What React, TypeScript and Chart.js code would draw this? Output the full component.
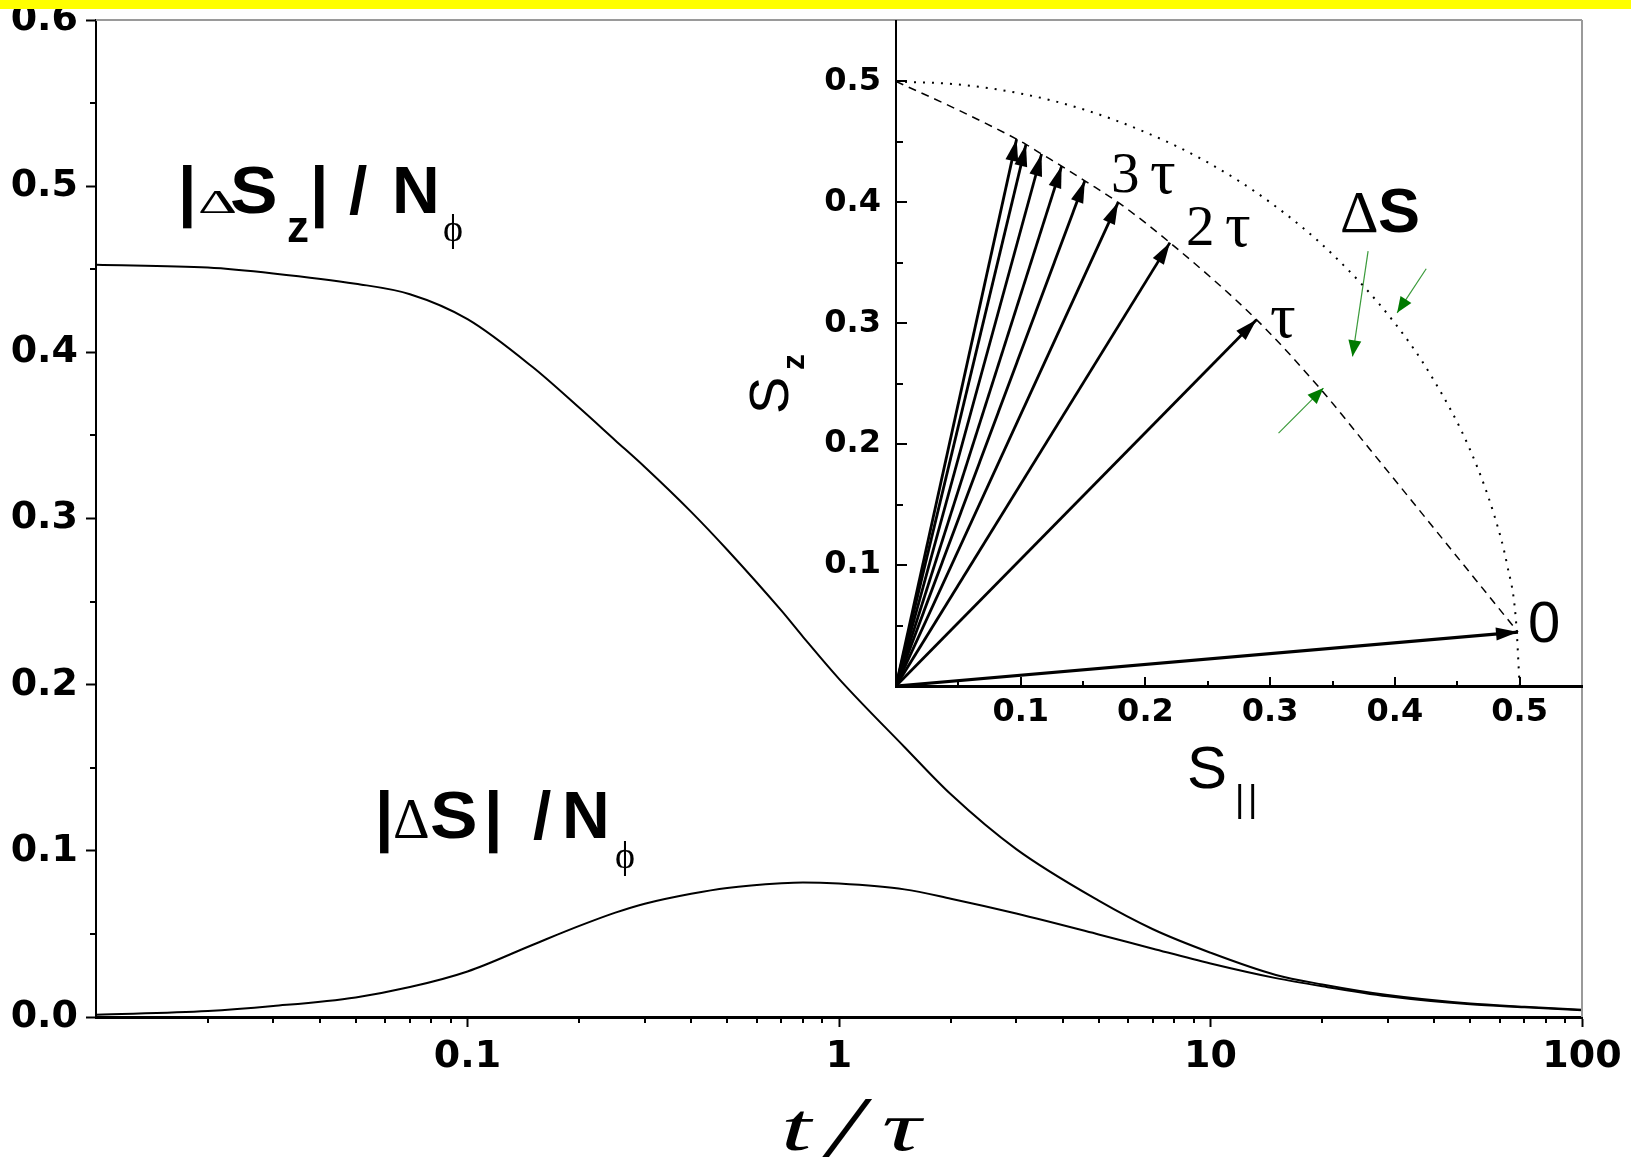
import React, { useEffect, useRef } from 'react';
import { Chart, registerables } from 'chart.js';

Chart.register(...registerables);

const W = 1631;
const H = 1163;

// ---------- main chart data ----------
const tOverTau = [0.01, 0.02, 0.03, 0.05, 0.07, 0.1, 0.15, 0.2, 0.25, 0.3, 0.4, 0.5, 0.7, 0.8, 1, 1.5, 2, 3, 5, 7, 10, 15, 20, 30, 50, 70, 100];
const deltaSzOverN = [0.4527, 0.451, 0.4475, 0.4413, 0.435, 0.42, 0.391, 0.3666, 0.347, 0.331, 0.304, 0.2812, 0.2445, 0.2288, 0.2035, 0.1625, 0.134, 0.101, 0.07, 0.0528, 0.0387, 0.0253, 0.0196, 0.0132, 0.0081, 0.0062, 0.0044];
const deltaSOverN = [0.0014, 0.0036, 0.0066, 0.0118, 0.018, 0.0274, 0.0435, 0.0548, 0.0628, 0.0682, 0.0742, 0.0777, 0.0805, 0.081, 0.0803, 0.0768, 0.0712, 0.0623, 0.0497, 0.0411, 0.0322, 0.0234, 0.0185, 0.0125, 0.0076, 0.0058, 0.004];
const xMajorTicks = [0.1, 1, 10, 100];
const xDecades = [0.01, 0.1, 1, 10];
const yMajorTicks = [0, 0.1, 0.2, 0.3, 0.4, 0.5, 0.6];
const yMinorTicks = [0.05, 0.15, 0.25, 0.35, 0.45, 0.55];

// ---------- inset data ----------
const circleSpar = [0, 0.05, 0.1, 0.15, 0.2, 0.25, 0.3, 0.35, 0.4, 0.43, 0.46, 0.48, 0.49, 0.497, 0.5];
const circleSz = [0.5, 0.4975, 0.49, 0.477, 0.458, 0.433, 0.4, 0.357, 0.3, 0.255, 0.196, 0.14, 0.1, 0.055, 0];
const locusSpar = [0, 0.0486, 0.0967, 0.1042, 0.1167, 0.1328, 0.1514, 0.1781, 0.2196, 0.289, 0.3397, 0.3825, 0.4987];
const locusSz = [0.5, 0.477, 0.4523, 0.448, 0.44, 0.43, 0.4178, 0.4, 0.3667, 0.303, 0.2464, 0.1925, 0.0446];
const arrowTimes = ['0', 'τ', '2τ', '3τ', '4τ', '5τ', '6τ', '7τ', '8τ'];
const arrowSpar = [0.4987, 0.289, 0.2196, 0.1781, 0.1514, 0.1328, 0.1167, 0.1042, 0.0967];
const arrowSz = [0.0446, 0.303, 0.3667, 0.4, 0.4178, 0.43, 0.44, 0.448, 0.4523];
const greenFromSpar = [0.3785, 0.4251, 0.3067];
const greenFromSz = [0.3597, 0.3451, 0.2091];
const greenToSpar = [0.366, 0.4018, 0.3427];
const greenToSz = [0.2726, 0.3086, 0.2464];
const insetMajor = [0.1, 0.2, 0.3, 0.4, 0.5];
const insetMinor = [0.05, 0.15, 0.25, 0.35, 0.45];

const SANS = "'Liberation Sans', Arial, sans-serif";
const SERIF = "'Liberation Serif', 'DejaVu Serif', 'Times New Roman', serif";
const TICKFONT = "'DejaVu Sans', sans-serif";

function txt(ctx: CanvasRenderingContext2D, s: string, x: number, y: number, font: string, sx = 1, sy = 1) {
  ctx.save();
  ctx.font = font;
  ctx.textAlign = 'left';
  ctx.textBaseline = 'alphabetic';
  ctx.fillStyle = '#000';
  ctx.translate(x, y);
  ctx.scale(sx, sy);
  ctx.fillText(s, 0, 0);
  ctx.restore();
}

function head(ctx: CanvasRenderingContext2D, x1: number, y1: number, x2: number, y2: number, len: number, half: number, color: string) {
  const a = Math.atan2(y2 - y1, x2 - x1);
  const c = Math.cos(a), s = Math.sin(a);
  ctx.beginPath();
  ctx.moveTo(x2, y2);
  ctx.lineTo(x2 - len * c + half * s, y2 - len * s - half * c);
  ctx.lineTo(x2 - len * c - half * s, y2 - len * s + half * c);
  ctx.closePath();
  ctx.fillStyle = color;
  ctx.fill();
}

function noPad(s: any) {
  s.paddingTop = 0;
  s.paddingBottom = 0;
  s.paddingLeft = 0;
  s.paddingRight = 0;
}

const mainDecor = {
  id: 'mainDecor',
  afterDraw(chart: any) {
    const ctx: CanvasRenderingContext2D = chart.ctx;
    const xs = chart.scales.x;
    const ys = chart.scales.y;
    const { left, right, top, bottom } = chart.chartArea;
    ctx.save();
    // minor ticks
    ctx.strokeStyle = '#000';
    ctx.lineWidth = 2;
    ctx.beginPath();
    xDecades.forEach((d) => {
      for (let m = 2; m <= 9; m++) {
        const px = Math.round(xs.getPixelForValue(d * m));
        ctx.moveTo(px, bottom);
        ctx.lineTo(px, bottom + 6);
      }
    });
    yMinorTicks.forEach((v) => {
      const py = Math.round(ys.getPixelForValue(v));
      ctx.moveTo(left - 6, py);
      ctx.lineTo(left, py);
    });
    ctx.stroke();
    // frame (top/right) in gray
    ctx.strokeStyle = '#9a9a9a';
    ctx.lineWidth = 2;
    ctx.beginPath();
    ctx.moveTo(left, top);
    ctx.lineTo(right, top);
    ctx.moveTo(right, top);
    ctx.lineTo(right, bottom);
    ctx.stroke();
    // yellow band
    ctx.fillStyle = '#ffff00';
    ctx.fillRect(0, 0, W, 9);

    // annotation 1: |ΔSz| / Nϕ
    txt(ctx, '|', 178, 213, `bold 66px ${SANS}`);
    txt(ctx, 'Δ', 198, 213, `38px ${SERIF}`, 1.6, 0.88);
    txt(ctx, 'S', 230, 213, `bold 66px ${SANS}`, 1.08);
    txt(ctx, 'z', 287, 242, `bold 44px ${SANS}`);
    txt(ctx, '|', 310, 213, `bold 66px ${SANS}`);
    txt(ctx, '/', 349, 213, `bold 66px ${SANS}`);
    txt(ctx, 'N', 392, 213, `bold 66px ${SANS}`);
    txt(ctx, 'ϕ', 443, 241, `38px ${SERIF}`);

    // annotation 2: |ΔS| / Nϕ
    txt(ctx, '|', 375, 838, `bold 66px ${SANS}`);
    txt(ctx, 'Δ', 393, 838, `57px ${SERIF}`);
    txt(ctx, 'S', 430, 838, `bold 66px ${SANS}`, 1.08);
    txt(ctx, '|', 484, 838, `bold 66px ${SANS}`);
    txt(ctx, '/', 533, 838, `bold 66px ${SANS}`);
    txt(ctx, 'N', 562, 838, `bold 66px ${SANS}`);
    txt(ctx, 'ϕ', 615, 868, `38px ${SERIF}`);

    // x-axis title t / τ
    txt(ctx, 't', 781, 1150, `italic 68px ${SERIF}`, 1.6);
    txt(ctx, '/', 828, 1156, `italic 86px ${SERIF}`, 1.45);
    txt(ctx, 'τ', 882, 1150, `italic 70px ${SERIF}`, 1.55);
    ctx.restore();
  },
};

const insetDecor = {
  id: 'insetDecor',
  afterDatasetsDraw(chart: any) {
    const ctx: CanvasRenderingContext2D = chart.ctx;
    ctx.save();
    chart.data.datasets.forEach((ds: any, i: number) => {
      if (!ds.arrowHead) return;
      const pts = chart.getDatasetMeta(i).data;
      const p1 = pts[pts.length - 2];
      const p2 = pts[pts.length - 1];
      head(ctx, p1.x, p1.y, p2.x, p2.y, ds.arrowHead.len, ds.arrowHead.half, ds.arrowHead.color);
    });
    ctx.restore();
  },
  afterDraw(chart: any) {
    const ctx: CanvasRenderingContext2D = chart.ctx;
    const xs = chart.scales.x;
    const ys = chart.scales.y;
    const { left, bottom } = chart.chartArea;
    ctx.save();
    ctx.strokeStyle = '#000';
    ctx.lineWidth = 2;
    ctx.beginPath();
    insetMajor.forEach((v) => {
      const px = Math.round(xs.getPixelForValue(v));
      ctx.moveTo(px, bottom);
      ctx.lineTo(px, bottom - 9);
      const py = Math.round(ys.getPixelForValue(v));
      ctx.moveTo(left, py);
      ctx.lineTo(left + 11, py);
    });
    insetMinor.forEach((v) => {
      const px = Math.round(xs.getPixelForValue(v));
      ctx.moveTo(px, bottom);
      ctx.lineTo(px, bottom - 5);
      const py = Math.round(ys.getPixelForValue(v));
      ctx.moveTo(left, py);
      ctx.lineTo(left + 7, py);
    });
    ctx.stroke();

    // labels of vectors
    txt(ctx, '3', 1111, 192, `57px ${SERIF}`);
    txt(ctx, 'τ', 1150, 193, `64px ${SERIF}`);
    txt(ctx, '2', 1186, 245, `57px ${SERIF}`);
    txt(ctx, 'τ', 1225, 246, `64px ${SERIF}`);
    txt(ctx, 'τ', 1270, 337, `64px ${SERIF}`);
    txt(ctx, '0', 1528, 642, `58px ${SANS}`);
    txt(ctx, 'Δ', 1340, 232, `60px ${SERIF}`);
    txt(ctx, 'S', 1378, 232, `bold 63px ${SANS}`);

    // axis titles
    txt(ctx, 'S', 1187, 788, `60px ${SANS}`);
    txt(ctx, '|', 1235, 811, `36px ${SANS}`);
    txt(ctx, '|', 1248, 811, `36px ${SANS}`);

    ctx.translate(788, 414);
    ctx.rotate(-Math.PI / 2);
    txt(ctx, 'S', 0, 0, `56px ${SANS}`);
    txt(ctx, 'z', 44, 16, `bold 32px ${SANS}`);
    ctx.restore();
  },
};

export default function App() {
  const mainRef = useRef<HTMLCanvasElement>(null);
  const insetRef = useRef<HTMLCanvasElement>(null);

  useEffect(() => {
    const tickFontMain = { family: TICKFONT, weight: 'bold' as const, size: 38 };
    const curve = (label: string, ys: number[]) => ({
      label,
      data: tOverTau.map((t, i) => ({ x: t, y: ys[i] })),
      borderColor: '#000',
      borderWidth: 2,
      pointRadius: 0,
      cubicInterpolationMode: 'monotone',
      fill: false,
    });
    const main = new Chart(mainRef.current as HTMLCanvasElement, {
      type: 'line',
      data: {
        datasets: [curve('|ΔSz| / Nϕ', deltaSzOverN), curve('|ΔS| / Nϕ', deltaSOverN)],
      },
      options: {
        responsive: false,
        animation: false,
        devicePixelRatio: 1,
        events: [],
        layout: { padding: { top: 20, right: 49, left: 0, bottom: 0 } },
        plugins: { legend: { display: false }, tooltip: { enabled: false } },
        scales: {
          x: {
            type: 'logarithmic',
            min: 0.01,
            max: 100,
            afterBuildTicks: (s: any) => {
              s.ticks = xMajorTicks.map((v) => ({ value: v, major: true }));
            },
            afterFit: (s: any) => {
              s.height = H - 1017;
              noPad(s);
            },
            ticks: {
              callback: (v: any) => String(v),
              font: tickFontMain,
              color: '#000',
              padding: 7,
              maxRotation: 0,
              autoSkip: false,
            },
            grid: { display: true, drawOnChartArea: false, drawTicks: true, tickLength: 10, tickWidth: 2, tickColor: '#000' },
            border: { display: true, color: '#000', width: 3 },
          },
          y: {
            type: 'linear',
            min: 0,
            max: 0.6,
            afterBuildTicks: (s: any) => {
              s.ticks = yMajorTicks.map((v) => ({ value: v }));
            },
            afterFit: (s: any) => {
              s.width = 96;
              noPad(s);
            },
            ticks: {
              callback: (v: any) => Number(v).toFixed(1),
              font: tickFontMain,
              color: '#000',
              padding: 8,
              autoSkip: false,
            },
            grid: { display: true, drawOnChartArea: false, drawTicks: true, tickLength: 10, tickWidth: 2, tickColor: '#000' },
            border: { display: true, color: '#000', width: 2 },
          },
        },
      },
      plugins: [mainDecor],
    } as any);

    const tickFontInset = { family: TICKFONT, weight: 'bold' as const, size: 32 };
    const blackArrow = (i: number) => ({
      label: arrowTimes[i],
      data: [
        { x: 0, y: 0 },
        { x: arrowSpar[i], y: arrowSz[i] },
      ],
      borderColor: '#000',
      borderWidth: i === 0 ? 3.2 : 2.8,
      pointRadius: 0,
      tension: 0,
      arrowHead: { len: 22, half: 6.5, color: '#000' },
    });
    const greenArrow = (i: number) => ({
      label: 'green' + i,
      data: [
        { x: greenFromSpar[i], y: greenFromSz[i] },
        { x: greenToSpar[i], y: greenToSz[i] },
      ],
      borderColor: '#3a9a3a',
      borderWidth: 1.2,
      pointRadius: 0,
      tension: 0,
      arrowHead: { len: 16, half: 6.5, color: '#007a00' },
    });

    const inset = new Chart(insetRef.current as HTMLCanvasElement, {
      type: 'line',
      data: {
        datasets: [
          {
            label: '|S| = 1/2',
            data: circleSpar.map((x, i) => ({ x, y: circleSz[i] })),
            borderColor: '#000',
            borderWidth: 2,
            borderDash: [2, 7],
            pointRadius: 0,
            cubicInterpolationMode: 'monotone',
          },
          {
            label: 'S(t)',
            data: locusSpar.map((x, i) => ({ x, y: locusSz[i] })),
            borderColor: '#000',
            borderWidth: 1.5,
            borderDash: [8, 6],
            pointRadius: 0,
            cubicInterpolationMode: 'monotone',
          },
          ...arrowSpar.map((_, i) => blackArrow(i)),
          ...greenFromSpar.map((_, i) => greenArrow(i)),
        ],
      },
      options: {
        responsive: false,
        animation: false,
        devicePixelRatio: 1,
        events: [],
        layout: { padding: { top: 21, right: 49, left: 0, bottom: 0 } },
        plugins: { legend: { display: false }, tooltip: { enabled: false } },
        scales: {
          x: {
            type: 'linear',
            min: 0,
            max: 0.55,
            afterBuildTicks: (s: any) => {
              s.ticks = insetMajor.map((v) => ({ value: v }));
            },
            afterFit: (s: any) => {
              s.height = H - 686;
              noPad(s);
            },
            ticks: {
              callback: (v: any) => Number(v).toFixed(1),
              font: tickFontInset,
              color: '#000',
              padding: 7,
              maxRotation: 0,
              autoSkip: false,
            },
            grid: { display: false, drawTicks: false },
            border: { display: true, color: '#000', width: 3 },
          },
          y: {
            type: 'linear',
            min: 0,
            max: 0.55,
            afterBuildTicks: (s: any) => {
              s.ticks = insetMajor.map((v) => ({ value: v }));
            },
            afterFit: (s: any) => {
              s.width = 896;
              noPad(s);
            },
            ticks: {
              callback: (v: any) => Number(v).toFixed(1),
              font: tickFontInset,
              color: '#000',
              padding: 15,
              autoSkip: false,
            },
            grid: { display: false, drawTicks: false },
            border: { display: true, color: '#000', width: 2 },
          },
        },
      },
      plugins: [insetDecor],
    } as any);

    return () => {
      main.destroy();
      inset.destroy();
    };
  }, []);

  return (
    <div style={{ position: 'fixed', left: 0, top: 0, width: W, height: H, background: '#fff', overflow: 'hidden' }}>
      <canvas ref={mainRef} width={W} height={H} style={{ position: 'absolute', left: 0, top: 0, width: W, height: H }} />
      <canvas ref={insetRef} width={W} height={H} style={{ position: 'absolute', left: 0, top: 0, width: W, height: H }} />
    </div>
  );
}
